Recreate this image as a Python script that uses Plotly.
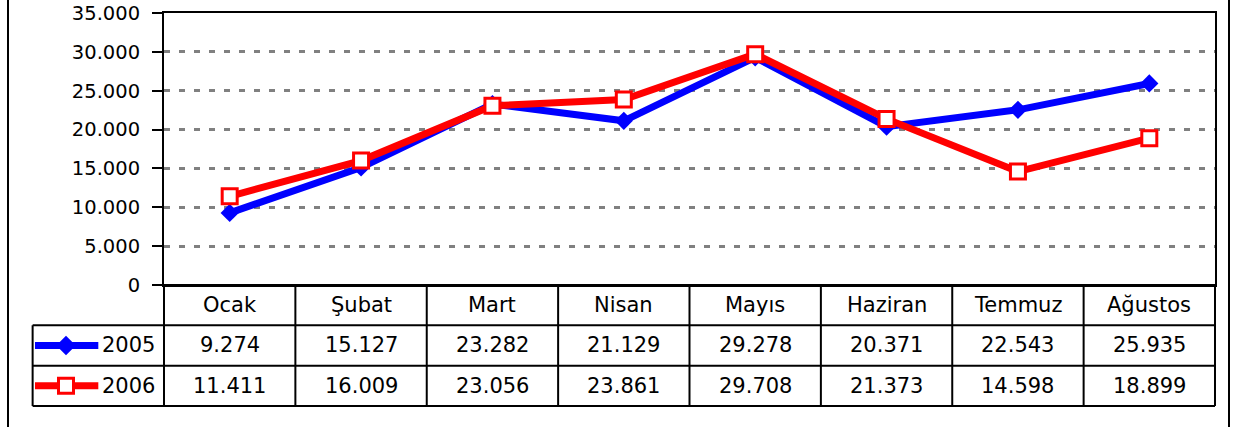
import plotly.graph_objects as go

months = ["Ocak", "Şubat", "Mart", "Nisan", "Mayıs", "Haziran", "Temmuz", "Ağustos"]
series_names = ["2005", "2006"]
values_2005 = [9274, 15127, 23282, 21129, 29278, 20371, 22543, 25935]
values_2006 = [11411, 16009, 23056, 23861, 29708, 21373, 14598, 18899]
y_ticks = [0, 5000, 10000, 15000, 20000, 25000, 30000, 35000]

BLUE = "#0000FF"
RED = "#FF0000"
FONT = "DejaVu Sans"
W, H = 1234, 427


def fmt(v):
    return f"{v:,}".replace(",", ".")


# pixel layout helpers (layout only)
px_plot_left, px_plot_right = 164, 1215
px_plot_top, px_plot_bottom = 13, 285
px_table_bottom = 406
unit_x = (px_plot_right - px_plot_left) / len(months)
unit_y = (px_table_bottom - px_plot_bottom) / 3

x2_range = [-1.55, len(months) - 0.5 + 0.05]
x2_dom = [(px_plot_left + (x2_range[0] + 0.5) * unit_x) / W,
          (px_plot_right + 0.05 * unit_x) / W]
y2_range = [-0.1, 3.1]
y2_dom = [1 - (px_table_bottom + 0.1 * unit_y) / H,
          1 - (px_plot_bottom - 0.1 * unit_y) / H]

fig = go.Figure()

# main lines
fig.add_trace(go.Scatter(
    x=months, y=values_2005, name=series_names[0], mode="lines+markers",
    line=dict(color=BLUE, width=7),
    marker=dict(symbol="diamond", size=14, color=BLUE),
    xaxis="x", yaxis="y", showlegend=False, cliponaxis=False))
fig.add_trace(go.Scatter(
    x=months, y=values_2006, name=series_names[1], mode="lines+markers",
    line=dict(color=RED, width=7),
    marker=dict(symbol="square", size=15, color="white",
                line=dict(color=RED, width=3)),
    xaxis="x", yaxis="y", showlegend=False, cliponaxis=False))

# legend keys inside the table
key_x0, key_x1, key_mid = -1.482, -1.0, -1.246
for row_y, color, marker in [
        (1.5, BLUE, dict(symbol="diamond", size=15, color=BLUE)),
        (0.5, RED, dict(symbol="square", size=15, color="white",
                        line=dict(color=RED, width=3)))]:
    fig.add_trace(go.Scatter(
        x=[key_x0, key_x1], y=[row_y, row_y], mode="lines",
        line=dict(color=color, width=7), xaxis="x2", yaxis="y2",
        showlegend=False, hoverinfo="skip"))
    fig.add_trace(go.Scatter(
        x=[key_mid], y=[row_y], mode="markers", marker=marker,
        xaxis="x2", yaxis="y2", showlegend=False, hoverinfo="skip"))

shapes = []
line_style = dict(color="black", width=2)
# table horizontal lines
shapes.append(dict(type="line", xref="x2", yref="y2", x0=-0.5, x1=len(months) - 0.5,
                   y0=3, y1=3, line=line_style))
for yy in [2, 1, 0]:
    shapes.append(dict(type="line", xref="x2", yref="y2", x0=-1.5, x1=len(months) - 0.5,
                       y0=yy, y1=yy, line=line_style))
# table vertical lines
shapes.append(dict(type="line", xref="x2", yref="y2", x0=-1.5, x1=-1.5,
                   y0=0, y1=2, line=line_style))
for i in range(len(months) + 1):
    xx = i - 0.5
    shapes.append(dict(type="line", xref="x2", yref="y2", x0=xx, x1=xx,
                       y0=0, y1=3, line=line_style))
# outer chart frame (left and right visible edges)
for xp in [8 / W, 1229 / W]:
    shapes.append(dict(type="line", xref="paper", yref="paper", x0=xp, x1=xp,
                       y0=-0.05, y1=1.05, line=line_style))

annotations = []
tfont = dict(family=FONT, size=21, color="black")
for i, m in enumerate(months):
    annotations.append(dict(xref="x2", yref="y2", x=i, y=2.5, text=m,
                            showarrow=False, font=tfont))
    annotations.append(dict(xref="x2", yref="y2", x=i, y=1.5, text=fmt(values_2005[i]),
                            showarrow=False, font=tfont))
    annotations.append(dict(xref="x2", yref="y2", x=i, y=0.5, text=fmt(values_2006[i]),
                            showarrow=False, font=tfont))
for name, yy in zip(series_names, [1.5, 0.5]):
    annotations.append(dict(xref="x2", yref="y2", x=-0.99, y=yy, text=name,
                            xanchor="left", showarrow=False, font=tfont))

fig.update_layout(
    width=W, height=H,
    margin=dict(l=0, r=0, t=0, b=0, autoexpand=False),
    paper_bgcolor="white", plot_bgcolor="rgba(0,0,0,0)",
    separators=",.",
    font=dict(family=FONT, size=20, color="black"),
    xaxis=dict(domain=[px_plot_left / W, px_plot_right / W], type="category",
               categoryorder="array", categoryarray=months, automargin=False,
               range=[-0.5, len(months) - 0.5], showticklabels=False, ticks="",
               showgrid=False, zeroline=False, showline=True, mirror=True,
               linecolor="black", linewidth=2),
    yaxis=dict(domain=[1 - px_plot_bottom / H, 1 - px_plot_top / H], automargin=False,
               range=[0, 35000], tickvals=y_ticks, tickformat=",d",
               ticks="outside", ticklen=10, tickwidth=2, tickcolor="black",
               tickfont=dict(family=FONT, size=19.5, color="black"),
               ticklabelstandoff=8,
               showgrid=True, gridcolor="#808080", gridwidth=2.5, griddash="6px,9px",
               zeroline=False, showline=True, mirror=True,
               linecolor="black", linewidth=2),
    xaxis2=dict(domain=x2_dom, range=x2_range, anchor="y2", showgrid=False,
                automargin=False,
                zeroline=False, showticklabels=False, showline=False, ticks=""),
    yaxis2=dict(domain=y2_dom, range=y2_range, anchor="x2", showgrid=False,
                automargin=False,
                zeroline=False, showticklabels=False, showline=False, ticks=""),
    shapes=shapes, annotations=annotations,
    showlegend=False,
)

fig.write_html("out.html")
